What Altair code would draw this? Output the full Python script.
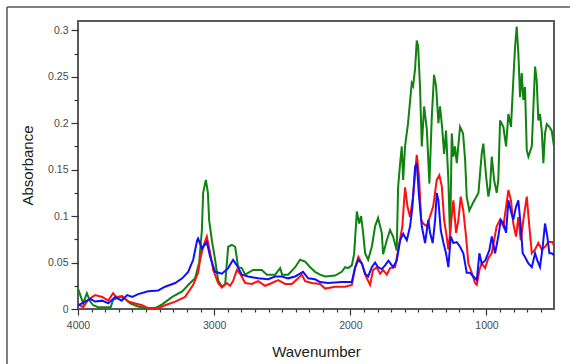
import altair as alt
import pandas as pd

# ---- data (wavenumber, absorbance) ----
green_wn = [4000, 3962, 3935, 3910, 3888, 3852, 3760, 3742, 3690, 3653, 3617, 3565, 3507, 3433, 3382, 3308,
            3235, 3176, 3140, 3110, 3090, 3081, 3061, 3046, 3037, 3017, 2993, 2971, 2943, 2919, 2897, 2870,
            2846, 2824, 2797, 2772, 2714, 2650, 2613, 2552, 2515, 2501, 2457, 2405, 2369, 2332, 2295, 2259,
            2222, 2185, 2112, 2063, 2038, 2016, 1989, 1972, 1952, 1935, 1921, 1906, 1891, 1869, 1842, 1818,
            1796, 1769, 1759, 1732, 1708, 1686, 1659, 1649, 1634, 1622, 1612, 1598, 1576, 1549, 1539, 1524,
            1512, 1502, 1488, 1475, 1458, 1438, 1419, 1402, 1385, 1370, 1353, 1341, 1326, 1311, 1297, 1280,
            1267, 1255, 1243, 1231, 1218, 1194, 1172, 1157, 1145, 1126, 1096, 1059, 1035, 1023, 1003, 986,
            974, 961, 944, 925, 913, 900, 876, 856, 839, 820, 803, 790, 778, 766, 753, 741,
            729, 717, 704, 692, 667, 643, 631, 619, 607, 594, 582, 570, 557, 538, 521, 504]
green_ab = [0.022, 0.006, 0.017, 0.008, 0.004, 0.002, 0.002, 0.010, 0.013, 0.011, 0.006, 0.003, 0.001, 0.001, 0.005, 0.013,
            0.019, 0.028, 0.033, 0.050, 0.085, 0.125, 0.139, 0.125, 0.096, 0.074, 0.053, 0.031, 0.024, 0.027, 0.067, 0.069,
            0.067, 0.045, 0.044, 0.037, 0.042, 0.042, 0.037, 0.037, 0.044, 0.037, 0.037, 0.045, 0.053, 0.051, 0.045, 0.040,
            0.037, 0.035, 0.036, 0.040, 0.045, 0.044, 0.047, 0.059, 0.105, 0.092, 0.100, 0.082, 0.060, 0.053, 0.067, 0.089,
            0.098, 0.082, 0.059, 0.074, 0.085, 0.078, 0.063, 0.131, 0.157, 0.175, 0.139, 0.175, 0.200, 0.243, 0.240, 0.259,
            0.289, 0.283, 0.239, 0.175, 0.218, 0.193, 0.135, 0.205, 0.252, 0.240, 0.200, 0.218, 0.196, 0.167, 0.192, 0.139,
            0.074, 0.189, 0.164, 0.175, 0.157, 0.196, 0.189, 0.161, 0.121, 0.106, 0.115, 0.125, 0.167, 0.178, 0.143, 0.121,
            0.131, 0.164, 0.139, 0.125, 0.139, 0.203, 0.196, 0.175, 0.210, 0.196, 0.246, 0.282, 0.304, 0.276, 0.228, 0.254,
            0.225, 0.239, 0.171, 0.164, 0.175, 0.261, 0.246, 0.203, 0.210, 0.192, 0.157, 0.189, 0.199, 0.196, 0.192, 0.175]

red_wn = [4000, 3962, 3925, 3874, 3822, 3778, 3742, 3720, 3675, 3631, 3580, 3529, 3485, 3411, 3360, 3286,
          3213, 3154, 3118, 3103, 3081, 3054, 3029, 3007, 2971, 2943, 2907, 2883, 2861, 2833, 2809, 2772,
          2723, 2677, 2626, 2576, 2530, 2479, 2430, 2383, 2356, 2332, 2283, 2222, 2185, 2112, 2038, 1989,
          1965, 1941, 1915, 1891, 1855, 1833, 1806, 1781, 1759, 1732, 1708, 1671, 1649, 1618, 1598, 1580,
          1561, 1539, 1512, 1495, 1480, 1465, 1438, 1414, 1392, 1365, 1346, 1328, 1311, 1292, 1280, 1267,
          1243, 1223, 1206, 1189, 1170, 1150, 1133, 1108, 1084, 1071, 1052, 1035, 1010, 986, 961, 944,
          925, 900, 876, 856, 839, 820, 803, 783, 766, 748, 729, 704, 685, 667, 643, 619,
          594, 570, 545, 513, 504]
red_ab = [0.005, 0.002, 0.010, 0.015, 0.013, 0.009, 0.017, 0.013, 0.014, 0.008, 0.006, 0.004, 0.001, 0.001, 0.004, 0.008,
          0.013, 0.026, 0.039, 0.053, 0.067, 0.078, 0.060, 0.042, 0.028, 0.023, 0.028, 0.025, 0.030, 0.042, 0.038, 0.028,
          0.027, 0.030, 0.025, 0.028, 0.031, 0.027, 0.027, 0.033, 0.037, 0.030, 0.028, 0.027, 0.022, 0.024, 0.024, 0.026,
          0.044, 0.056, 0.049, 0.037, 0.026, 0.042, 0.045, 0.038, 0.042, 0.037, 0.044, 0.045, 0.063, 0.089, 0.131, 0.110,
          0.099, 0.121, 0.166, 0.142, 0.096, 0.092, 0.089, 0.100, 0.110, 0.139, 0.144, 0.132, 0.096, 0.078, 0.064, 0.082,
          0.117, 0.082, 0.096, 0.121, 0.106, 0.078, 0.049, 0.039, 0.028, 0.026, 0.042, 0.049, 0.044, 0.055, 0.060, 0.074,
          0.089, 0.096, 0.089, 0.110, 0.128, 0.117, 0.092, 0.078, 0.099, 0.074, 0.096, 0.121, 0.089, 0.060, 0.064, 0.071,
          0.064, 0.067, 0.072, 0.072, 0.067]

blue_wn = [4000, 3947, 3910, 3874, 3822, 3778, 3727, 3680, 3639, 3602, 3558, 3485, 3411, 3360, 3286, 3235,
           3191, 3154, 3125, 3118, 3090, 3054, 3029, 2993, 2943, 2897, 2861, 2833, 2797, 2750, 2677, 2603,
           2552, 2503, 2457, 2405, 2347, 2310, 2259, 2222, 2163, 2063, 1989, 1965, 1941, 1915, 1891, 1869,
           1842, 1818, 1796, 1769, 1745, 1720, 1686, 1659, 1634, 1612, 1585, 1561, 1544, 1524, 1512, 1495,
           1475, 1451, 1427, 1414, 1395, 1377, 1365, 1353, 1336, 1316, 1297, 1280, 1262, 1243, 1218, 1194,
           1170, 1145, 1121, 1096, 1071, 1052, 1035, 1010, 979, 961, 937, 913, 895, 876, 856, 839,
           822, 803, 783, 766, 748, 734, 717, 692, 667, 643, 626, 607, 587, 570, 553, 538,
           521, 504]
blue_ab = [0.004, 0.008, 0.011, 0.008, 0.009, 0.006, 0.013, 0.009, 0.015, 0.013, 0.016, 0.019, 0.020, 0.024, 0.028, 0.033,
           0.040, 0.053, 0.074, 0.076, 0.065, 0.072, 0.056, 0.040, 0.038, 0.044, 0.053, 0.047, 0.037, 0.035, 0.033, 0.032,
           0.035, 0.035, 0.033, 0.035, 0.040, 0.033, 0.032, 0.029, 0.028, 0.029, 0.029, 0.045, 0.053, 0.049, 0.038, 0.035,
           0.045, 0.050, 0.045, 0.043, 0.047, 0.052, 0.045, 0.052, 0.074, 0.081, 0.074, 0.089, 0.110, 0.153, 0.157, 0.121,
           0.089, 0.071, 0.096, 0.082, 0.071, 0.096, 0.125, 0.117, 0.085, 0.071, 0.060, 0.045, 0.078, 0.071, 0.072, 0.067,
           0.060, 0.039, 0.039, 0.035, 0.031, 0.060, 0.049, 0.052, 0.063, 0.078, 0.060, 0.078, 0.096, 0.092, 0.082, 0.117,
           0.106, 0.096, 0.110, 0.117, 0.089, 0.060, 0.056, 0.049, 0.045, 0.060, 0.052, 0.045, 0.067, 0.092, 0.078, 0.060,
           0.060, 0.058]

x_ticks = list(range(600, 4001, 100))
y_ticks = [0, 0.025, 0.05, 0.075, 0.1, 0.125, 0.15, 0.175, 0.2, 0.225, 0.25, 0.275, 0.3]
x_domain = [504, 4000]
y_domain = [0, 0.31]

FONT = "Liberation Sans"

xscale = alt.Scale(domain=x_domain, reverse=True, nice=False, zero=False)
yscale = alt.Scale(domain=y_domain, nice=False, zero=False)

xaxis = alt.Axis(
    values=x_ticks, format="d", labelFlush=False, labelOverlap=False,
    labelExpr="datum.value % 1000 === 0 ? datum.label : ''",
    tickSize={"condition": {"test": "datum.value % 1000 === 0", "value": 6}, "value": 3},
    title="Wavenumber", grid=False, domain=False,
    labelFont=FONT, labelFontSize=10.5, labelColor="#4a4a4a", labelPadding=5,
    tickColor="#333333", tickWidth=1.2,
    titleFont=FONT, titleFontSize=15, titleFontWeight="normal", titleColor="#222222",
    titleX=238, titleY=42, titleBaseline="middle", titleAlign="center",
)
yaxis = alt.Axis(
    values=y_ticks, format="~g", labelFlush=False, labelOverlap=False,
    labelExpr="round(datum.value * 1000) % 50 === 0 ? datum.label : ''",
    tickSize={"condition": {"test": "round(datum.value * 1000) % 50 === 0", "value": 7}, "value": 4},
    title="Absorbance", grid=False, domain=False,
    labelFont=FONT, labelFontSize=10.5, labelColor="#4a4a4a", labelPadding=3,
    tickColor="#333333", tickWidth=1.2,
    titleFont=FONT, titleFontSize=15, titleFontWeight="normal", titleColor="#222222",
    titleX=-51, titleY=144, titleBaseline="middle", titleAlign="center", titleAngle=-90,
)


def series(wn, ab, color):
    df = pd.DataFrame({"wn": wn, "ab": ab})
    return alt.Chart(df).mark_line(color=color, strokeWidth=2, clip=True).encode(
        x=alt.X("wn:Q", scale=xscale, axis=xaxis),
        y=alt.Y("ab:Q", scale=yscale, axis=yaxis),
        order=alt.Order("wn:Q", sort="descending"),
    )


frame_data = alt.Data(values=[{"k": 1}])
top_rule = alt.Chart(frame_data).mark_rule(color="#555555", strokeWidth=1.5).encode(
    x=alt.value(-71), x2=alt.value(600), y=alt.value(-14))
left_rule = alt.Chart(frame_data).mark_rule(color="#555555", strokeWidth=1.5).encode(
    x=alt.value(-71), y=alt.value(-14), y2=alt.value(400))

chart = alt.layer(
    series(green_wn, green_ab, "#0f820f"),
    series(red_wn, red_ab, "#ff1010"),
    series(blue_wn, blue_ab, "#1010ff"),
    top_rule, left_rule,
).properties(
    width=476, height=288,
    autosize=alt.AutoSizeParams(type="none"),
    padding={"left": 78, "top": 21, "right": 16, "bottom": 55},
    background="white",
).configure_view(
    stroke="#5a5a5a", strokeWidth=2
)

chart.save("out.html", embed_options={"renderer": "svg", "actions": False})
